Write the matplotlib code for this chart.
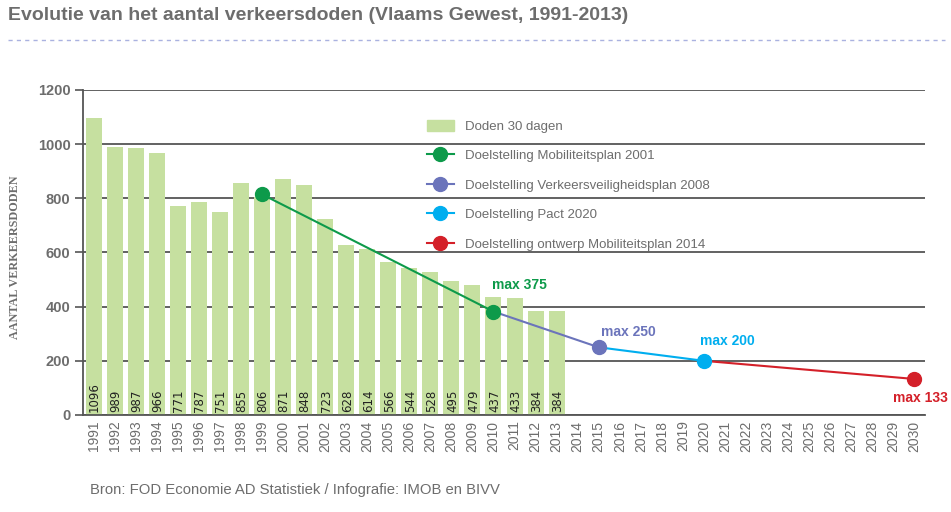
import matplotlib
matplotlib.use("Agg")
import matplotlib.pyplot as plt
import numpy as np
from matplotlib.patches import Patch
from matplotlib.lines import Line2D

years = list(range(1991, 2031))
bar_years = list(range(1991, 2014))
doden = [1096, 989, 987, 966, 771, 787, 751, 855, 806, 871, 848, 723,
         628, 614, 566, 544, 528, 495, 479, 437, 433, 384, 384]

# doelstellingen (jaar, waarde)
mob2001_x = [1999, 2010]
mob2001_y = [815, 382]
vvp2008_x = [2010, 2015]
vvp2008_y = [382, 250]
pact_x = [2015, 2020]
pact_y = [250, 200]
ontw_x = [2020, 2030]
ontw_y = [200, 133]

c_bar = "#c6e0a0"
c_green = "#0d9a4a"
c_purple = "#6b74bb"
c_cyan = "#00aeef"
c_red = "#d42029"
c_text = "#6d6d6d"
c_grid = "#555555"

plt.rcParams['font.family'] = ['Liberation Sans', 'DejaVu Sans']

fig = plt.figure(figsize=(9.51, 5.12), dpi=100)
ax = fig.add_axes([83 / 951, 1 - 415 / 512, 842 / 951, 325 / 512])

def xi(yr):
    return yr - 1991

xs = np.arange(len(years))
bx = [xi(y) for y in bar_years]
ax.bar(bx, doden, width=0.76, color=c_bar, zorder=2)
for x, v in zip(bx, doden):
    ax.text(x + 0.05, 12, str(v), rotation=90, ha='center', va='bottom',
            fontsize=8.5, color="#222222", family='DejaVu Sans', zorder=3)

series = [(mob2001_x, mob2001_y, c_green),
          (vvp2008_x, vvp2008_y, c_purple),
          (pact_x, pact_y, c_cyan),
          (ontw_x, ontw_y, c_red)]
for sx, sy, c in series:
    ax.plot([xi(v) for v in sx], sy, color=c, lw=1.5, zorder=4)
for sx, sy, c in series:
    ax.plot([xi(sx[-1])], [sy[-1]], 'o', color=c, ms=10, zorder=5)
ax.plot([xi(mob2001_x[0])], [mob2001_y[0]], 'o', color=c_green, ms=10, zorder=5)

ax.annotate("max 375", (xi(2010), mob2001_y[1]), xytext=(26, 27),
            textcoords='offset pixels', ha='center', va='center',
            color=c_green, fontsize=10, fontweight='bold')
ax.annotate("max 250", (xi(2015), vvp2008_y[1]), xytext=(30, 15),
            textcoords='offset pixels', ha='center', va='center',
            color=c_purple, fontsize=10, fontweight='bold')
ax.annotate("max 200", (xi(2020), pact_y[1]), xytext=(23, 20),
            textcoords='offset pixels', ha='center', va='center',
            color=c_cyan, fontsize=10, fontweight='bold')
ax.annotate("max 133", (xi(2030), ontw_y[1]), xytext=(6, -19),
            textcoords='offset pixels', ha='center', va='center',
            color=c_red, fontsize=10, fontweight='bold')

ax.set_xlim(-0.5, len(years) - 0.5)
ax.set_ylim(0, 1200)
ax.set_yticks(range(0, 1201, 200))
ax.set_xticks(xs)
ax.set_xticklabels([str(y) for y in years], rotation=90, fontsize=10,
                   color=c_text)
ax.tick_params(axis='x', length=0, pad=4)
ax.tick_params(axis='y', length=6, width=1.2, color=c_grid, labelsize=10.5,
               labelcolor=c_text, pad=3)
for lbl in ax.get_yticklabels():
    lbl.set_fontweight('bold')
ax.grid(axis='y', color=c_grid, lw=1.3, zorder=0)
ax.set_axisbelow(True)
for s in ['top', 'right']:
    ax.spines[s].set_visible(False)
ax.spines['left'].set_color(c_grid)
ax.spines['left'].set_linewidth(1.3)
ax.spines['bottom'].set_color(c_grid)
ax.spines['bottom'].set_linewidth(1.3)

fig.text(15 / 951, 1 - 257 / 512, "AANTAL VERKEERSDODEN", rotation=90,
         ha='center', va='center', fontsize=8.7, color=c_text,
         family='Liberation Serif', fontweight='bold')

handles = [Patch(color=c_bar),
           Line2D([], [], color=c_green, marker='o', ms=10, lw=1.5),
           Line2D([], [], color=c_purple, marker='o', ms=10, lw=1.5),
           Line2D([], [], color=c_cyan, marker='o', ms=10, lw=1.5),
           Line2D([], [], color=c_red, marker='o', ms=10, lw=1.5)]
labels = ["Doden 30 dagen", "Doelstelling Mobiliteitsplan 2001",
          "Doelstelling Verkeersveiligheidsplan 2008",
          "Doelstelling Pact 2020",
          "Doelstelling ontwerp Mobiliteitsplan 2014"]
leg = fig.legend(handles, labels, loc='upper left',
                 bbox_to_anchor=(420 / 951, 1 - 113 / 512), frameon=False,
                 fontsize=9.5, labelspacing=1.25, handlelength=2.1,
                 handleheight=0.9, handletextpad=0.8, borderpad=0)
for t in leg.get_texts():
    t.set_color(c_text)

fig.text(8 / 951, 1 - 15 / 512,
         "Evolutie van het aantal verkeersdoden (Vlaams Gewest, 1991-2013)",
         ha='left', va='center', fontsize=14, fontweight='bold', color=c_text)
fig.add_artist(Line2D([8 / 951, 945 / 951], [1 - 40 / 512, 1 - 40 / 512],
                      color="#aab2e0", lw=1, ls=(0, (3, 3))))
fig.text(90 / 951, 1 - 490 / 512,
         "Bron: FOD Economie AD Statistiek / Infografie: IMOB en BIVV",
         ha='left', va='center', fontsize=10.7, color=c_text)

fig.savefig("out.png", dpi=100)
